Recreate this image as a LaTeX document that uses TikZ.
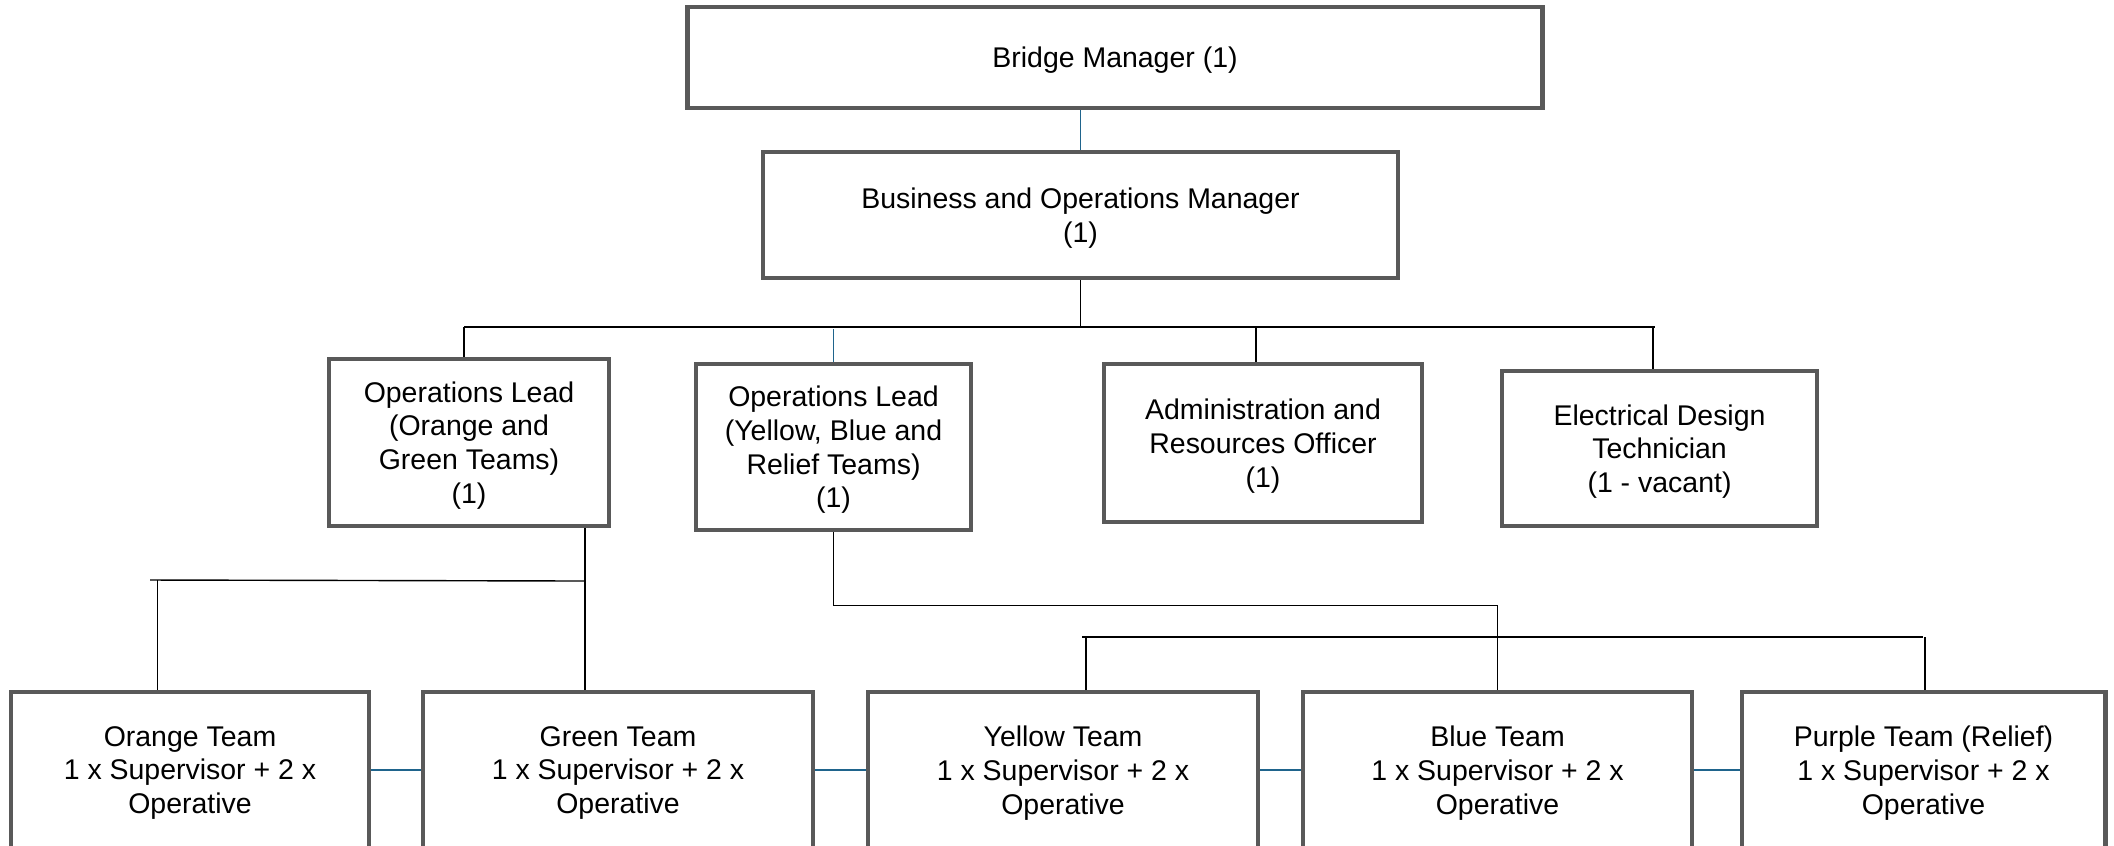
\documentclass[tikz,border=0pt]{standalone}
\usepackage{fontspec}
\setmainfont{Liberation Sans}

\definecolor{boxgray}{RGB}{89,89,89}
\definecolor{linkblue}{RGB}{31,100,140}

\tikzset{
    post/.style={draw=boxgray, line width=1.4pt, fill=white, align=center,
        inner sep=2pt, text depth=-0.5pt, font=\fontsize{8.1}{9.6}\selectfont},
    link/.style={draw=linkblue, line width=0.45pt},
    tie/.style={draw=black, line width=0.4pt}
}

\begin{document}
\begin{tikzpicture}
    \useasboundingbox (0,0) rectangle (21.14,-8.45);
    \clip (0,0) rectangle (21.14,-8.45);
    % Managers
    \node[post, minimum width=8.55cm, minimum height=1.01cm] (Top-1) at (11.15,-0.575) {Bridge Manager (1)};
    \node[post, minimum width=6.35cm, minimum height=1.26cm] (Top-2) at (10.805,-2.15) {Business and Operations Manager\\(1)};
    % Leads and officers
    \node[post, minimum width=2.80cm, minimum height=1.67cm] (Lead-1) at (4.69,-4.425) {Operations Lead\\(Orange and\\Green Teams)\\(1)};
    \node[post, minimum width=2.75cm, minimum height=1.66cm] (Lead-2) at (8.335,-4.47) {Operations Lead\\(Yellow, Blue and\\Relief Teams)\\(1)};
    \node[post, minimum width=3.18cm, minimum height=1.58cm] (Lead-3) at (12.63,-4.43) {Administration and\\Resources Officer\\(1)};
    \node[post, minimum width=3.15cm, minimum height=1.55cm] (Lead-4) at (16.595,-4.485) {Electrical Design\\Technician\\(1 - vacant)};
    % Teams
    \foreach \i/\x/\w/\name in {1/1.90/3.58/Orange Team, 2/6.18/3.90/Green Team, 3/10.63/3.90/Yellow Team,
                                4/14.975/3.89/Blue Team, 5/19.235/3.63/Purple Team (Relief)} {
        \node[post, minimum width=\w cm, minimum height=1.56cm] (Team-\i) at (\x,-7.70) {\name\\1 x Supervisor + 2 x\\Operative};
    }
    % Lines from the top
    \draw[link] (Top-2.north) -- (Top-2.north |- Top-1.south);
    \coordinate (Bus-L) at (4.64,-3.27);
    \coordinate (Bus-R) at (16.55,-3.27);
    \draw[tie] (Top-2.south) -- (Top-2.south |- Bus-L);
    \draw[tie] (Bus-L) -- (Bus-R);
    \draw[tie] (Bus-L) -- (Bus-L |- Lead-1.north);
    \draw[link] (Lead-2.north) -- ++(0,0.33);
    \draw[tie] ([xshift=-0.07cm]Lead-3.north) -- ([xshift=-0.07cm]Lead-3.north |- Bus-L);
    \draw[tie] ([xshift=-0.065cm]Lead-4.north) -- ([xshift=-0.065cm]Lead-4.north |- Bus-R);
    % Orange and Green
    \coordinate (Sub1-L) at (1.50,-5.80);
    \coordinate (Sub1-R) at (5.85,-5.81);
    \draw[tie] (Sub1-L) -- (Sub1-R);
    \draw[tie] ([xshift=0.075cm]Sub1-L) -- ([xshift=0.075cm]Sub1-L |- Team-1.north);
    \draw[tie] (Lead-1.south -| Sub1-R) -- (Team-2.north -| Sub1-R);
    % Yellow, Blue and Relief
    \draw[tie] (Lead-2.south) -- ++(0,-0.73) -| (Team-4.north);
    \coordinate (Sub2-L) at (10.82,-6.37);
    \coordinate (Sub2-R) at (19.23,-6.37);
    \draw[tie] (Sub2-L) -- (Sub2-R);
    \draw[tie] ([xshift=0.04cm]Sub2-L) -- ([xshift=0.04cm]Sub2-L |- Team-3.north);
    \draw[tie] ([xshift=0.02cm]Sub2-R) -- ([xshift=0.02cm]Sub2-R |- Team-5.north);
    % Team row
    \foreach \i/\j in {1/2,2/3,3/4,4/5} {
        \draw[link] (Team-\i.east) -- (Team-\j.west);
    }
\end{tikzpicture}
\end{document}
